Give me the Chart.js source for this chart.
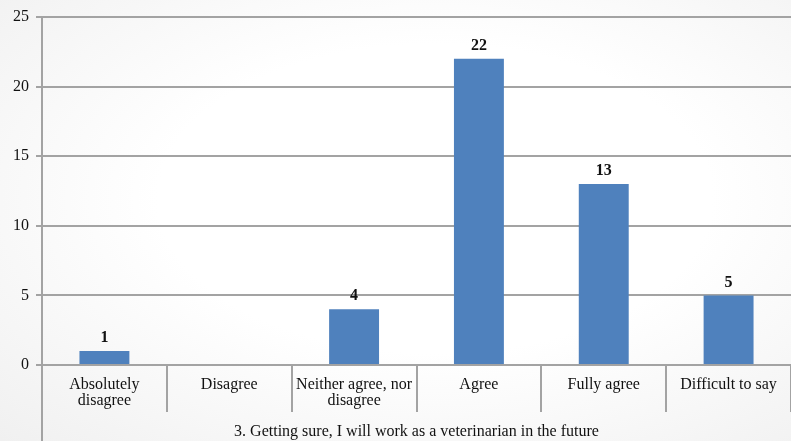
<!DOCTYPE html>
<html>
<head>
<meta charset="utf-8">
<script src="https://cdn.jsdelivr.net/npm/chart.js@4"></script>
<style>
  html, body { margin: 0; padding: 0; }
  #wrap {
    width: 791px; height: 441px;
    background: radial-gradient(ellipse at 55% 45%, #ffffff 45%, #f0f0f0 100%);
  }
</style>
</head>
<body>
<div id="wrap"><canvas id="surveyChart" width="791" height="441"></canvas></div>
<script>
const categories = [
    ['Absolutely', 'disagree'],
    'Disagree',
    ['Neither agree, nor', 'disagree'],
    'Agree',
    'Fully agree',
    'Difficult to say'
];
const answers = [1, 0, 4, 22, 13, 5];
const axisTitle = '3. Getting sure, I will work as a veterinarian in the future';

const serif = "'Liberation Serif', 'DejaVu Serif', serif";
const lineGray = '#a3a3a3';
const textFont = { family: serif, size: 16, lineHeight: 1.0 };

// value labels on top of each bar (empty answers get none)
const barLabels = {
    id: 'barLabels',
    afterDatasetsDraw(chart) {
        const ctx = chart.ctx;
        const meta = chart.getDatasetMeta(0);
        ctx.save();
        ctx.font = 'bold 16px ' + serif;
        ctx.fillStyle = '#111';
        ctx.textAlign = 'center';
        ctx.textBaseline = 'bottom';
        meta.data.forEach((bar, i) => {
            const v = chart.data.datasets[0].data[i];
            if (!v) return;
            ctx.fillText(v, bar.x, bar.y - 5);
        });
        ctx.restore();
    }
};

// the value axis line runs on down past the category labels
const axisExtend = {
    id: 'axisExtend',
    afterDraw(chart) {
        const ctx = chart.ctx;
        const x = chart.chartArea.left;
        ctx.save();
        ctx.strokeStyle = lineGray;
        ctx.lineWidth = 2;
        ctx.beginPath();
        ctx.moveTo(x, chart.chartArea.bottom);
        ctx.lineTo(x, chart.height);
        ctx.stroke();
        ctx.restore();
    }
};

new Chart(document.getElementById('surveyChart'), {
    type: 'bar',
    data: {
        labels: categories,
        datasets: [{
            data: answers,
            backgroundColor: '#4f81bd',
            categoryPercentage: 1,
            barPercentage: 0.4
        }]
    },
    options: {
        responsive: false,
        animation: false,
        layout: { padding: { top: 17, right: 0, bottom: 0, left: 0 } },
        plugins: {
            legend: { display: false },
            tooltip: { enabled: false }
        },
        scales: {
            x: {
                grid: {
                    offset: true,
                    drawOnChartArea: false,
                    tickLength: 47,
                    color: (c) => c.index === categories.length ? 'rgba(0,0,0,0)' : lineGray,
                    lineWidth: 2
                },
                border: { color: lineGray, width: 2 },
                ticks: {
                    padding: -35,
                    maxRotation: 0,
                    autoSkip: false,
                    color: '#111',
                    font: textFont
                },
                title: {
                    display: true,
                    text: axisTitle,
                    color: '#111',
                    padding: { top: 0, bottom: 1 },
                    font: textFont
                },
                afterFit(scale) { scale.height = 76; }
            },
            y: {
                min: 0,
                max: 25,
                ticks: {
                    stepSize: 5,
                    padding: 7,
                    color: '#111',
                    font: { family: serif, size: 16 }
                },
                grid: {
                    color: lineGray,
                    lineWidth: 2,
                    tickLength: 6
                },
                border: { color: lineGray, width: 2 },
                afterFit(scale) { scale.width = 42; }
            }
        }
    },
    plugins: [barLabels, axisExtend]
});
</script>
</body>
</html>
